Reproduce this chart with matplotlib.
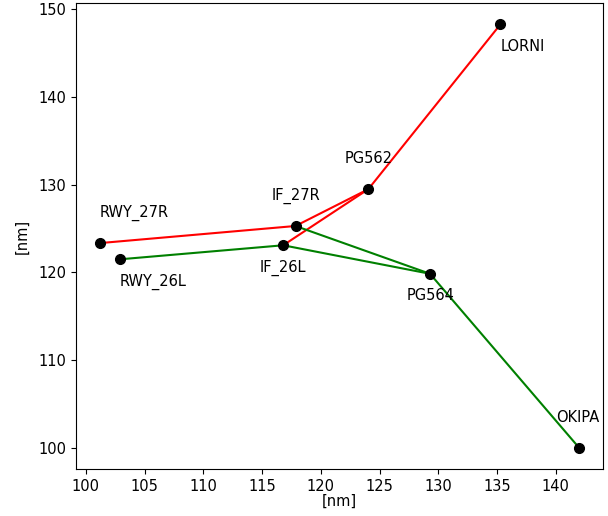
import numpy as np
import matplotlib
matplotlib.use("Agg")
import matplotlib.pyplot as plt

plt.rcParams["font.size"] = 10.5

# waypoint coordinates [nm]
names = ["RWY_27R", "RWY_26L", "IF_27R", "IF_26L", "PG562", "PG564", "LORNI", "OKIPA"]
xs = [101.2, 102.9, 117.85, 116.8, 124.05, 129.3, 135.3, 142.0]
ys = [123.35, 121.5, 125.3, 123.1, 129.5, 119.85, 148.3, 100.0]

# label offsets (dx, dy) in nm
label_dx = [0, 0, -2, -2, -2, -2, 0, -2]
label_dy = [3, -3, 3, -3, 3, -3, -3, 3]

# routes as sequences of waypoint names
red_routes = [["RWY_27R", "IF_27R", "PG562", "LORNI"], ["IF_26L", "PG562"]]
green_routes = [["RWY_26L", "IF_26L", "PG564", "OKIPA"], ["IF_27R", "PG564"]]

pos = {n: (x, y) for n, x, y in zip(names, xs, ys)}

fig = plt.figure(figsize=(6.08, 5.16), dpi=100)
ax = fig.add_subplot(111)
fig.subplots_adjust(left=0.125, right=0.992, bottom=0.091, top=0.994)

for route in red_routes:
    ax.plot([pos[n][0] for n in route], [pos[n][1] for n in route], color="red", lw=1.5)
for route in green_routes:
    ax.plot([pos[n][0] for n in route], [pos[n][1] for n in route], color="green", lw=1.5)

ax.plot(xs, ys, "o", color="black", markersize=7, zorder=3)
for n, x, y, dx, dy in zip(names, xs, ys, label_dx, label_dy):
    ax.text(x + dx, y + dy, n, fontsize=10.5)

ax.set_xlabel("[nm]", labelpad=0)
ax.set_ylabel("[nm]", labelpad=6)

fig.savefig("out.png", dpi=100)
